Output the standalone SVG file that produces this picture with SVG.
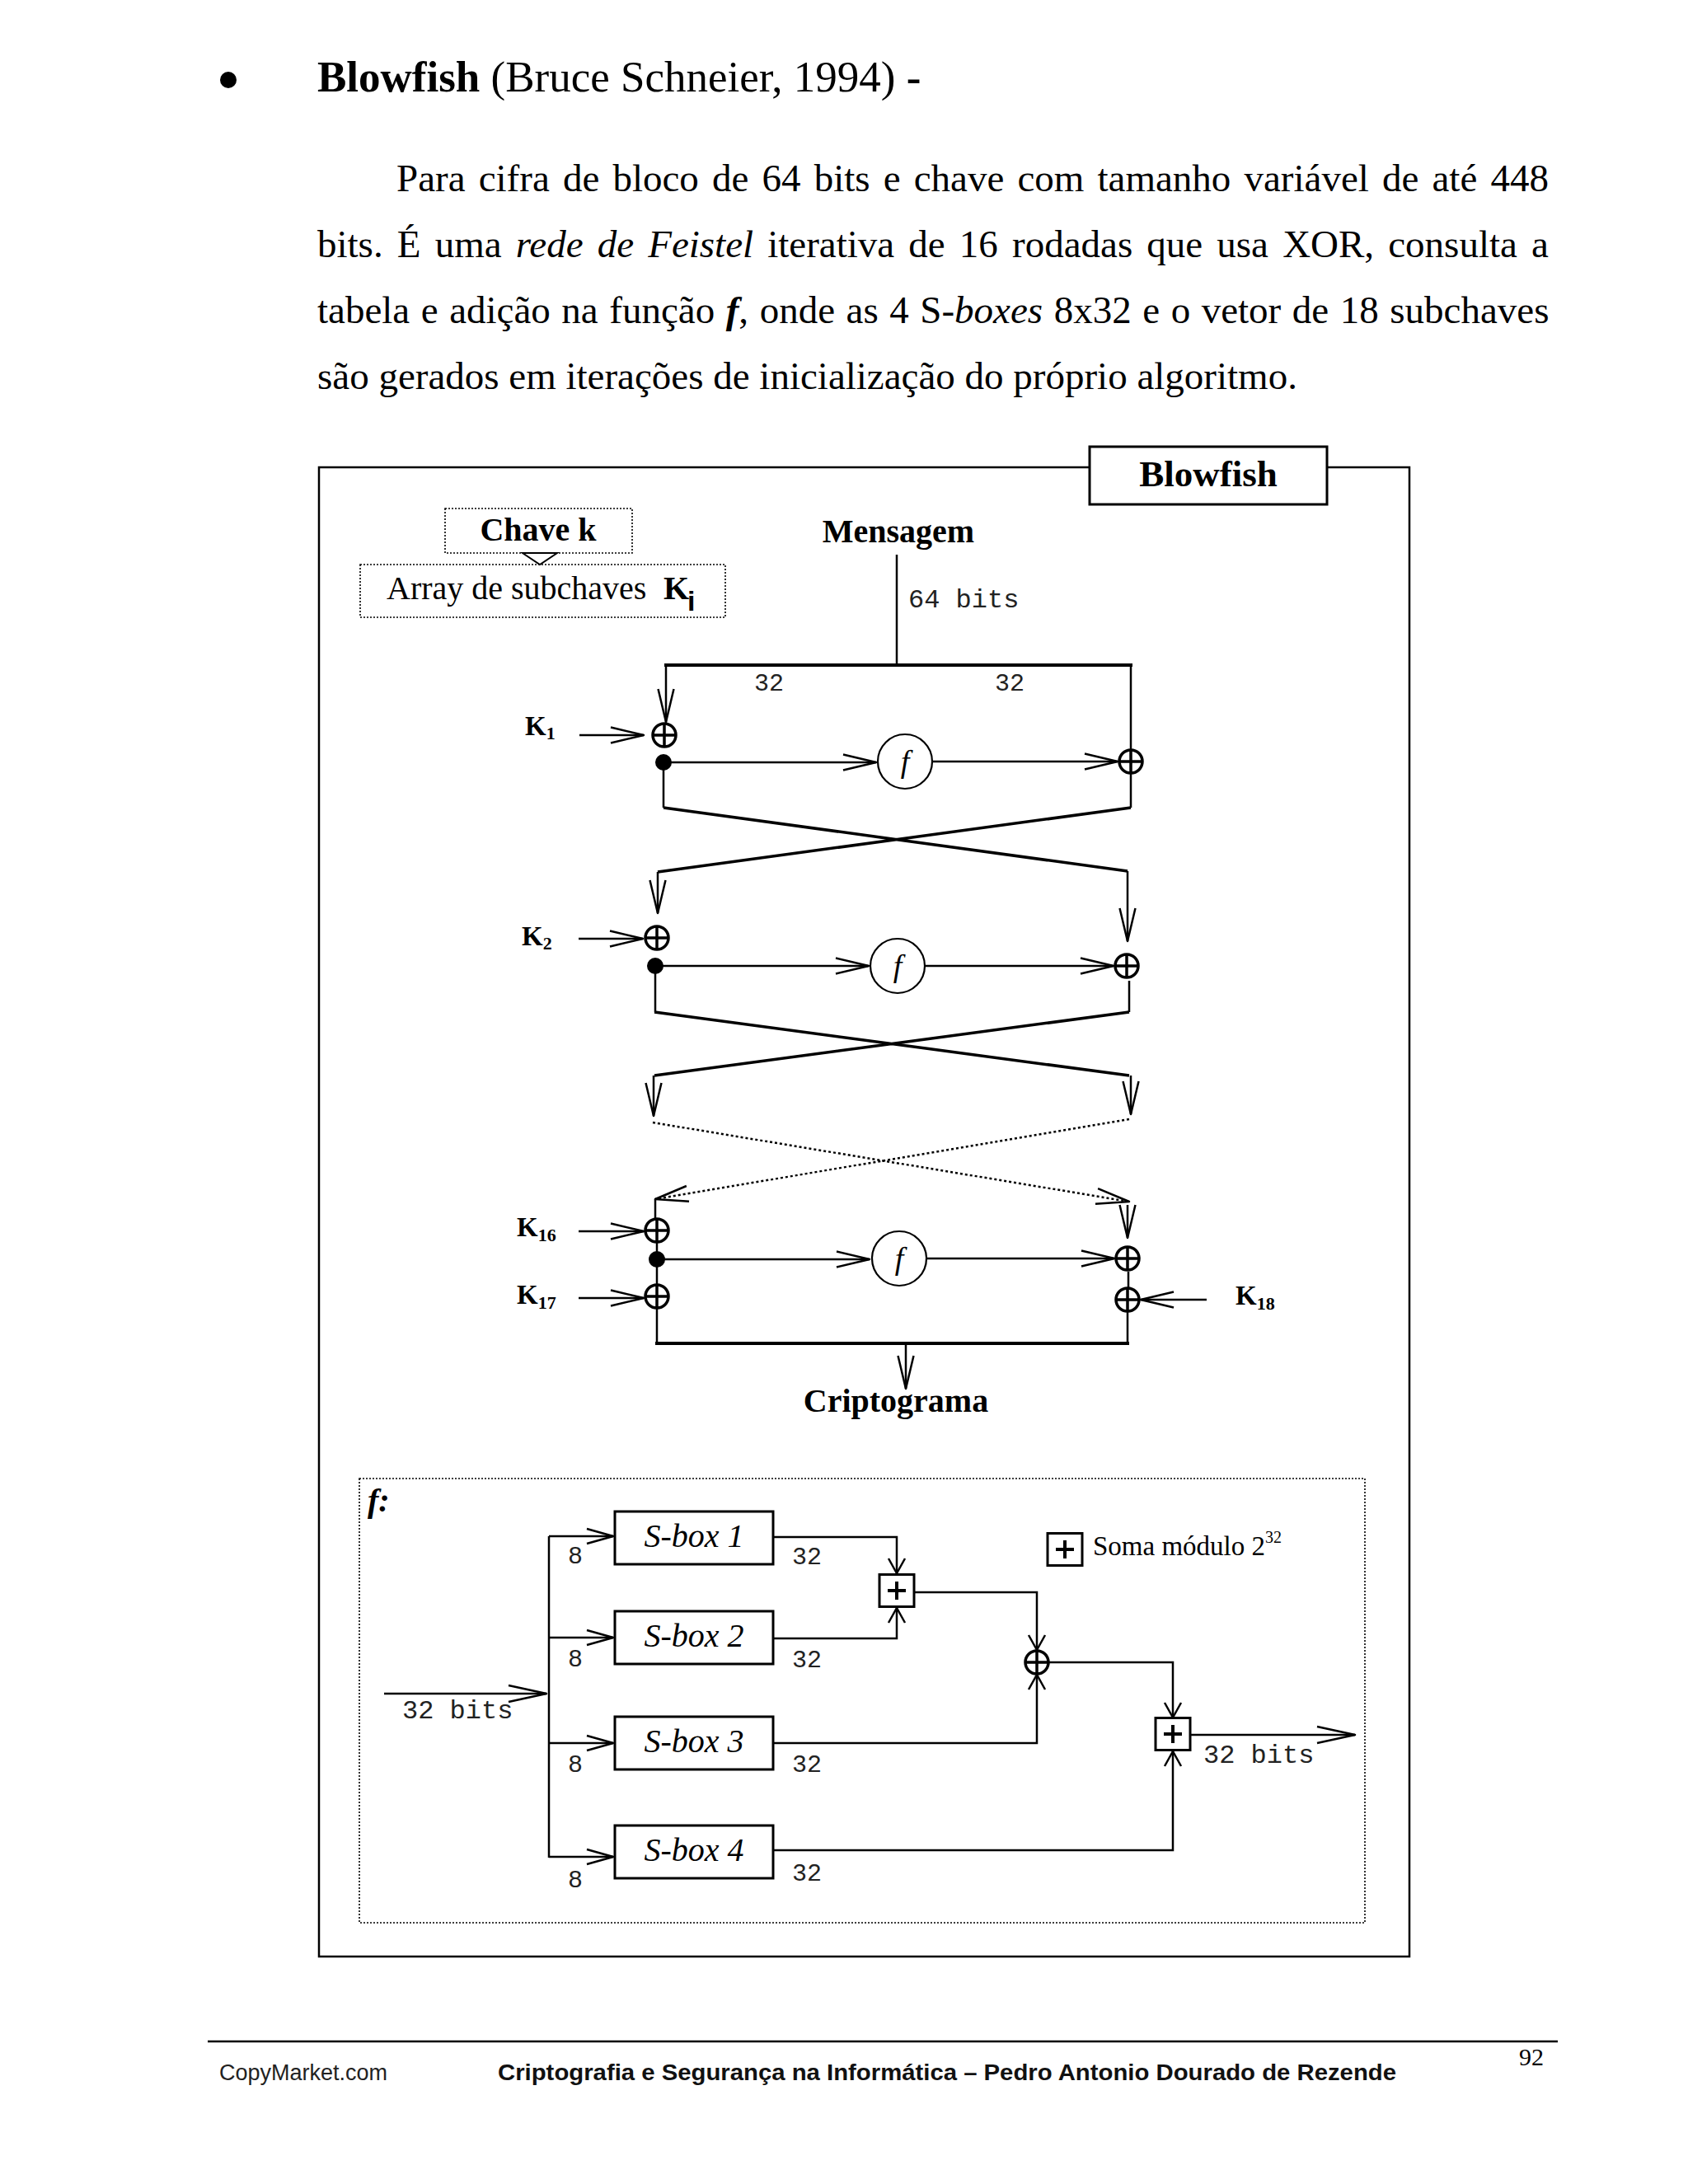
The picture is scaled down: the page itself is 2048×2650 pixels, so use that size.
<svg xmlns="http://www.w3.org/2000/svg" xmlns:xlink="http://www.w3.org/1999/xlink" width="2048" height="2650" viewBox="0 0 2048 2650">
<style>
.serif{font-family:"Liberation Serif","Times New Roman",serif;fill:#000}
.mono{font-family:"Liberation Mono","Courier New",monospace;fill:#222}
.sans{font-family:"Liberation Sans",Arial,sans-serif}
.b{font-weight:bold}
.it{font-style:italic}
.ln{stroke:#000;stroke-width:2.5;fill:none}
.th{stroke-width:3.5}
.tk{stroke-width:4}
.dot{stroke-dasharray:3 3}
.box{fill:#fff;stroke:#000;stroke-width:3}
.dbox{fill:none;stroke:#000;stroke-width:1.6;stroke-dasharray:2 2}
</style>
<defs>
<marker id="a1" markerUnits="userSpaceOnUse" markerWidth="10" markerHeight="10" refX="0" refY="0" orient="auto" overflow="visible">
<path d="M-40,-9.5 L0,0 L-40,9.5" fill="none" stroke="#000" stroke-width="2.5" stroke-linejoin="round"/>
</marker>
<marker id="a2" markerUnits="userSpaceOnUse" markerWidth="10" markerHeight="10" refX="0" refY="0" orient="auto" overflow="visible">
<path d="M-18,-10 L0,0 L-18,10" fill="none" stroke="#000" stroke-width="2.5" stroke-linejoin="round"/>
</marker>
<marker id="a3" markerUnits="userSpaceOnUse" markerWidth="10" markerHeight="10" refX="0" refY="0" orient="auto" overflow="visible">
<path d="M-32,-9 L0,0 L-32,9" fill="none" stroke="#000" stroke-width="2.5" stroke-linejoin="round"/>
</marker>
<marker id="a4" markerUnits="userSpaceOnUse" markerWidth="10" markerHeight="10" refX="0" refY="0" orient="auto" overflow="visible">
<path d="M-46,-10 L0,0 L-46,10" fill="none" stroke="#000" stroke-width="2.5" stroke-linejoin="round"/>
</marker>
<g id="xor">
<circle r="14" fill="#fff" stroke="#000" stroke-width="3.5"/>
<path d="M-14,0 H14 M0,-14 V14" stroke="#000" stroke-width="3.5"/>
</g>
<g id="fn">
<circle r="33" fill="#fff" stroke="#000" stroke-width="2.2"/>
<text class="serif it" x="0" y="13" font-size="38" text-anchor="middle">f</text>
</g>
<g id="pbox">
<rect x="-21" y="-19.5" width="42" height="39" fill="#fff" stroke="#000" stroke-width="3"/>
<path d="M-11,0 H11 M0,-11 V11" stroke="#000" stroke-width="4"/>
</g>
</defs>

<rect width="2048" height="2650" fill="#fff"/>

<!-- heading and paragraph -->
<g id="heading">
<circle cx="277" cy="97" r="10" fill="#000"/>
<text class="serif" x="385" y="111" font-size="53"><tspan class="b">Blowfish</tspan> (Bruce Schneier, 1994) <tspan class="b">-</tspan></text>
</g>
<g id="paragraph" font-size="47">
<text class="serif" x="481" y="232" word-spacing="4.4">Para cifra de bloco de 64 bits e chave com tamanho variável de até 448</text>
<text class="serif" x="385" y="312" word-spacing="5.4">bits. É uma <tspan class="it">rede de Feistel</tspan> iterativa de 16 rodadas que usa XOR, consulta a</text>
<text class="serif" x="385" y="392" word-spacing="1.8">tabela e adição na função <tspan class="b it">f</tspan>, onde as 4 S-<tspan class="it">boxes</tspan> 8x32 e o vetor de 18 subchaves</text>
<text class="serif" x="385" y="472">são gerados em iterações de inicialização do próprio algoritmo.</text>
</g>

<!-- frame -->
<g id="frame">
<rect x="387" y="567" width="1323" height="1807" fill="none" stroke="#000" stroke-width="2.5"/>
</g>
<g id="title-box">
<rect x="1322" y="542" width="288" height="70" class="box" stroke-width="2.5"/>
<text class="serif b" x="1466" y="590" font-size="45" text-anchor="middle">Blowfish</text>
</g>

<g id="chave">
<rect x="540" y="617" width="227" height="54" class="dbox"/>
<text class="serif b" x="653" y="656" font-size="40" text-anchor="middle">Chave k</text>
<path d="M634,671 L676,671 L655,685 Z" fill="#fff" stroke="#000" stroke-width="2"/>
</g>
<g id="array">
<rect x="437" y="685" width="443" height="64" class="dbox"/>
<text class="serif" x="469" y="727" font-size="40">Array de subchaves</text>
<text class="serif b" x="805" y="727" font-size="40">K</text>
<text class="sans b" x="834" y="741" font-size="34">i</text>
</g>

<g id="mensagem"><text class="serif b" x="1090" y="658" font-size="40" text-anchor="middle">Mensagem</text></g>
<g id="label-64"><text class="mono" x="1102" y="737" font-size="32">64 bits</text></g>
<g id="label-32a"><text class="mono" x="915" y="838" font-size="30">32</text></g>
<g id="label-32b"><text class="mono" x="1207" y="838" font-size="30">32</text></g>

<!-- connectors -->
<g id="connectors">
<path class="ln" d="M1088,673 V807" stroke-width="2"/>
<path class="ln tk" d="M806,807 H1374"/>
<path class="ln" d="M808,807 V876" marker-end="url(#a1)" stroke-width="2"/>
<path class="ln" d="M1372,807 V909" stroke-width="2"/>
<path class="ln" d="M703,892 H781" stroke-width="3" marker-end="url(#a1)"/>
<path class="ln" d="M805,925 H1063" stroke-width="3" marker-end="url(#a1)"/>
<path class="ln" d="M1131,924 H1356" stroke-width="3" marker-end="url(#a1)"/>
<path class="ln" d="M805,925 V980 M1372,938 V980" stroke-width="2"/>
<path class="ln th" d="M805,980 L1368,1057 M1372,980 L798,1058"/>
<path class="ln" d="M798,1058 V1108" stroke-width="2" marker-end="url(#a1)"/>
<path class="ln" d="M1368,1057 V1142" stroke-width="2" marker-end="url(#a1)"/>

<path class="ln" d="M702,1139 H780" stroke-width="3" marker-end="url(#a1)"/>
<path class="ln" d="M795,1172 H1054" stroke-width="3" marker-end="url(#a1)"/>
<path class="ln" d="M1122,1172 H1351" stroke-width="3" marker-end="url(#a1)"/>
<path class="ln" d="M795,1172 V1228 M1370,1190 V1228" stroke-width="2"/>
<path class="ln th" d="M794,1228 L1370,1305 M1370,1228 L794,1305"/>
<path class="ln" d="M793,1305 V1354" stroke-width="2" marker-end="url(#a1)"/>
<path class="ln" d="M1372,1305 V1352" stroke-width="2" marker-end="url(#a1)"/>

<path class="ln dot" d="M792,1362 L1370,1458" stroke-width="2.5" marker-end="url(#a1)"/>
<path class="ln dot" d="M1370,1358 L795,1455" stroke-width="2.5" marker-end="url(#a1)"/>
<path class="ln" d="M795,1455 V1480" stroke-width="2"/>
<path class="ln" d="M1368,1462 V1502" stroke-width="2" marker-end="url(#a1)"/>

<path class="ln" d="M702,1494 H781" stroke-width="3" marker-end="url(#a1)"/>
<path class="ln" d="M797,1528 H1055" stroke-width="3" marker-end="url(#a1)"/>
<path class="ln" d="M1125,1527 H1352" stroke-width="3" marker-end="url(#a1)"/>
<path class="ln" d="M797,1507 V1560" stroke-width="2"/>
<path class="ln" d="M1369,1543 V1562" stroke-width="2"/>
<path class="ln" d="M702,1575 H781" stroke-width="3" marker-end="url(#a1)"/>
<path class="ln" d="M1464,1577 H1384" stroke-width="3" marker-end="url(#a1)"/>
<path class="ln" d="M797,1587 V1630 M1368,1591 V1630" stroke-width="2"/>
<path class="ln tk" d="M795,1630 H1370"/>
<path class="ln" d="M1099,1630 V1685" stroke-width="2" marker-end="url(#a1)"/>

<!-- f detail connectors -->
<path class="ln" d="M466,2055 H663" stroke-width="3" marker-end="url(#a4)"/>
<path class="ln" d="M666,1864 V2254" stroke-width="3"/>
<path class="ln" d="M666,1864 H744" stroke-width="3" marker-end="url(#a3)"/>
<path class="ln" d="M666,1987 H744" stroke-width="3" marker-end="url(#a3)"/>
<path class="ln" d="M666,2115 H744" stroke-width="3" marker-end="url(#a3)"/>
<path class="ln" d="M666,2253 H744" stroke-width="3" marker-end="url(#a3)"/>
<path class="ln" d="M938,1865 H1088 V1909" stroke-width="3" marker-end="url(#a2)"/>
<path class="ln" d="M938,1988 H1088 V1951" stroke-width="3" marker-end="url(#a2)"/>
<path class="ln" d="M1109,1932 H1258 V2002" stroke-width="3" marker-end="url(#a2)"/>
<path class="ln" d="M938,2115 H1258 V2032" stroke-width="3" marker-end="url(#a2)"/>
<path class="ln" d="M1272,2017 H1423 V2084" stroke-width="3" marker-end="url(#a2)"/>
<path class="ln" d="M938,2245 H1423 V2125" stroke-width="3" marker-end="url(#a2)"/>
<path class="ln" d="M1444,2105 H1644" stroke-width="3" marker-end="url(#a4)"/>
</g>

<!-- round 1 -->
<g id="k1"><text class="serif b" x="637" y="892" font-size="33">K<tspan font-size="22" dy="5">1</tspan></text></g>
<g id="xor-1l"><use xlink:href="#xor" x="806" y="892"/></g>
<g id="dot-1"><circle cx="805" cy="925" r="10" fill="#000"/></g>
<g id="f-1"><use xlink:href="#fn" x="1098" y="924"/></g>
<g id="xor-1r"><use xlink:href="#xor" x="1372" y="924"/></g>

<!-- round 2 -->
<g id="k2"><text class="serif b" x="633" y="1147" font-size="33">K<tspan font-size="22" dy="5">2</tspan></text></g>
<g id="xor-2l"><use xlink:href="#xor" x="797" y="1138"/></g>
<g id="dot-2"><circle cx="795" cy="1172" r="10" fill="#000"/></g>
<g id="f-2"><use xlink:href="#fn" x="1089" y="1172"/></g>
<g id="xor-2r"><use xlink:href="#xor" x="1367" y="1172"/></g>

<!-- round 16 -->
<g id="k16"><text class="serif b" x="627" y="1500" font-size="33">K<tspan font-size="22" dy="6">16</tspan></text></g>
<g id="xor-16l"><use xlink:href="#xor" x="797" y="1493"/></g>
<g id="dot-16"><circle cx="797" cy="1528" r="10" fill="#000"/></g>
<g id="f-16"><use xlink:href="#fn" x="1091" y="1527"/></g>
<g id="xor-16r"><use xlink:href="#xor" x="1368" y="1527"/></g>
<g id="k17"><text class="serif b" x="627" y="1582" font-size="33">K<tspan font-size="22" dy="6">17</tspan></text></g>
<g id="xor-17"><use xlink:href="#xor" x="797" y="1573"/></g>
<g id="xor-18"><use xlink:href="#xor" x="1368" y="1577"/></g>
<g id="k18"><text class="serif b" x="1499" y="1583" font-size="33">K<tspan font-size="22" dy="6">18</tspan></text></g>

<g id="criptograma"><text class="serif b" x="1087" y="1713" font-size="40" text-anchor="middle">Criptograma</text></g>

<!-- function f detail -->
<g id="f-detail">
<rect x="436" y="1794" width="1220" height="539" class="dbox"/>
<text class="serif b it" x="446" y="1834" font-size="40">f:</text>
</g>
<g id="in-label"><text class="mono" x="488" y="2085" font-size="32">32 bits</text></g>
<g id="sbox1"><rect x="746" y="1834" width="192" height="64" class="box"/><text class="serif it" x="842" y="1877" font-size="40" text-anchor="middle">S-box 1</text></g>
<g id="sbox2"><rect x="746" y="1955" width="192" height="64" class="box"/><text class="serif it" x="842" y="1998" font-size="40" text-anchor="middle">S-box 2</text></g>
<g id="sbox3"><rect x="746" y="2083" width="192" height="64" class="box"/><text class="serif it" x="842" y="2126" font-size="40" text-anchor="middle">S-box 3</text></g>
<g id="sbox4"><rect x="746" y="2215" width="192" height="64" class="box"/><text class="serif it" x="842" y="2258" font-size="40" text-anchor="middle">S-box 4</text></g>
<g id="bits-labels">
<text class="mono" x="689" y="1897" font-size="30">8</text>
<text class="mono" x="689" y="2022" font-size="30">8</text>
<text class="mono" x="689" y="2150" font-size="30">8</text>
<text class="mono" x="689" y="2290" font-size="30">8</text>
<text class="mono" x="961" y="1898" font-size="30">32</text>
<text class="mono" x="961" y="2023" font-size="30">32</text>
<text class="mono" x="961" y="2150" font-size="30">32</text>
<text class="mono" x="961" y="2282" font-size="30">32</text>
</g>
<g id="add-1"><use xlink:href="#pbox" x="1088" y="1930"/></g>
<g id="xor-f"><use xlink:href="#xor" x="1258" y="2017"/></g>
<g id="add-2"><use xlink:href="#pbox" x="1423" y="2104"/></g>
<g id="out-label"><text class="mono" x="1460" y="2139" font-size="32">32 bits</text></g>
<g id="legend">
<use xlink:href="#pbox" x="1292" y="1880"/>
<text class="serif" x="1326" y="1887" font-size="33">Soma módulo 2<tspan font-size="20" dy="-15">32</tspan></text>
</g>

<!-- footer -->
<g id="footer">
<line x1="252" y1="2477" x2="1890" y2="2477" stroke="#000" stroke-width="2.5"/>
<text class="serif" x="1843" y="2506" font-size="30">92</text>
<text class="sans" x="266" y="2524" font-size="27" fill="#222">CopyMarket.com</text>
<text class="sans b" x="604" y="2524" font-size="27" fill="#111" textLength="1090" lengthAdjust="spacingAndGlyphs">Criptografia e Segurança na Informática – Pedro Antonio Dourado de Rezende</text>
</g>
</svg>
